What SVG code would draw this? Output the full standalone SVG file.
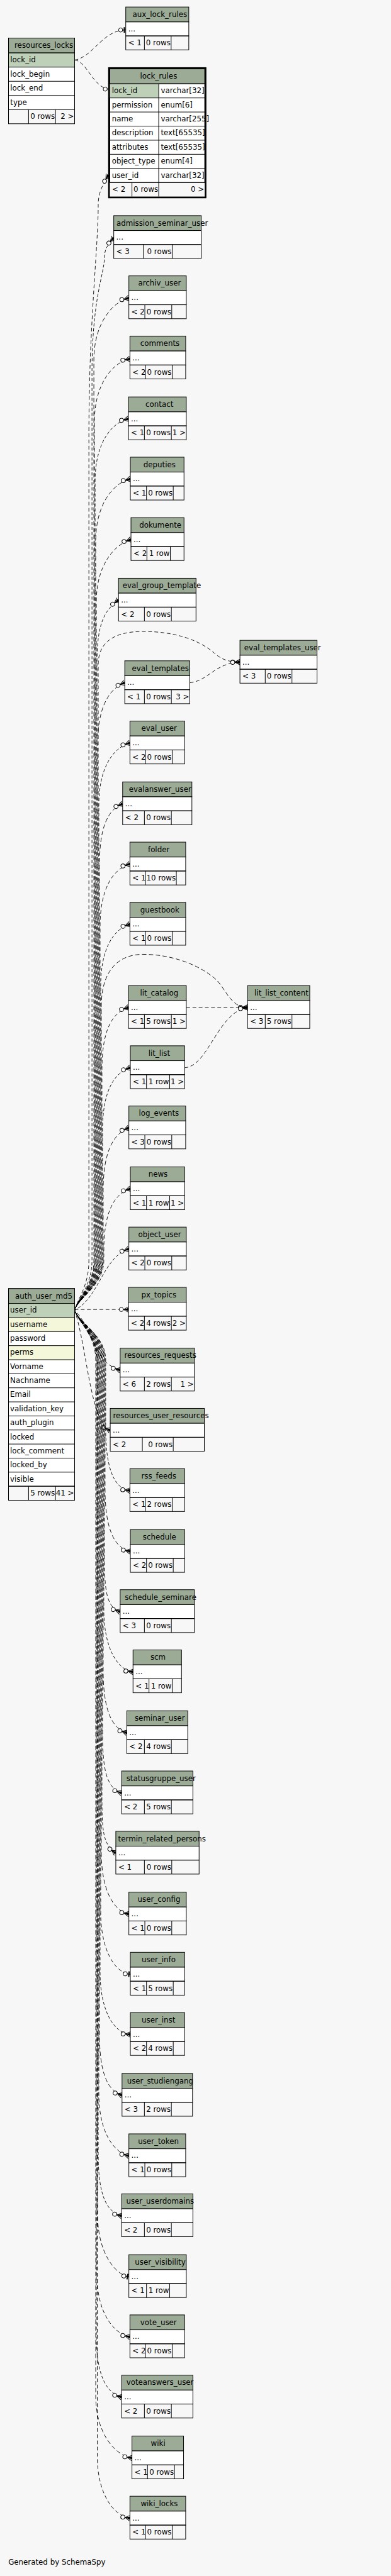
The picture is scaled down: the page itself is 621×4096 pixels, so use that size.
<svg xmlns="http://www.w3.org/2000/svg" width="621" height="4096" viewBox="0 0 621 4096">
<style>
.h{fill:#9bab96;stroke:#000;stroke-width:1}
.r{fill:#fff;stroke:#000;stroke-width:1}
.f{fill:none;stroke:#000;stroke-width:1}
.k{fill:#bed1b8}
.x{fill:#f4f7da}
.t{font-family:"DejaVu Sans","Liberation Sans",sans-serif;font-size:12px;fill:#000}
.e{text-anchor:end}
.c{fill:none;stroke:#000;stroke-width:0.9;stroke-dasharray:6,4}
.d{stroke-dasharray:5,3;stroke-dashoffset:2}
.g{stroke-dasharray:7,4;stroke-dashoffset:5}
.m{marker-end:url(#crow)}
.n{marker-end:url(#tee)}
</style>
<defs>
<marker id="crow" viewBox="-16 -6 17 12" refX="0" refY="0" markerWidth="17" markerHeight="12" markerUnits="userSpaceOnUse" orient="auto">
<path d="M0,-4.5L-8,0L0,4.5M-8.3,0H0" fill="none" stroke="#000" stroke-width="1"/>
<path d="M0,-2.6L-7,0L0,2.6Z" fill="#000"/>
<circle cx="-11.6" cy="0" r="3.3" fill="#fff" stroke="#000" stroke-width="1"/>
</marker>
<marker id="tee" viewBox="-13 -6 14 12" refX="0" refY="0" markerWidth="14" markerHeight="12" markerUnits="userSpaceOnUse" orient="auto">
<path d="M-2.3,-4.5V4.5" stroke="#000" stroke-width="2"/>
<path d="M-4.9,0H0" stroke="#000" stroke-width="1"/>
<circle cx="-8.2" cy="0" r="3.3" fill="#fff" stroke="#000" stroke-width="1"/>
</marker>
</defs>
<rect x="0" y="0" width="621" height="4096" fill="#f7f7f7"/>
<g transform="scale(0.98728)">
<g id="connectors">
<path class="c n" d="M120,96.7 C150,92 165,48.3 202.3,48.3"/>
<path class="c n" d="M120,96.7 C140,98 150,143.5 177.5,143.5"/>
<path class="c m" d="M120,2110 C126,2090 143,2070 143,2030 L143,700 C143,520 158,400 158,330 C158,318 160,305 174.5,282"/>
<path class="c d m" d="M120,2110 C126,2090 148,2070 148,2030 L148,600 C148,480 168,440 168,415 C168,403 172,395 183,383"/>
<path class="c g m" d="M120,2110 C126,2090 151,2070 151,2030 L151,580 C151,520 181.8,485.9 207.3,480"/>
<path class="c m" d="M120,2110 C126,2090 152,2070 152,2030 L152,678 C152,618 181.9,583.1 209,578"/>
<path class="c d m" d="M120,2110 C126,2090 153,2070 153,2030 L153,774.5 C153,714.5 178.8,680.7 206.7,674.5"/>
<path class="c g m" d="M120,2110 C126,2090 154,2070 154,2030 L154,871.5 C154,811.5 182.4,777.7 209.7,771.5"/>
<path class="c m" d="M120,2110 C126,2090 155,2070 155,2030 L155,969 C155,909 185,876.3 210.7,869"/>
<path class="c d m" d="M120,2110 C126,2090 156,2070 156,2030 L156,1066.5 C156,1006.5 167.2,983 190.7,966.5"/>
<path class="c g m" d="M120,2110 C126,2090 157,2070 157,2030 L157,1199.6 C157,1139.6 175,1109.3 200.7,1099.6"/>
<path class="c m" d="M120,2110 C126,2090 158,2070 158,2030 L158,1070 C158,1030 190,1017 230,1017 C280,1017 320,1030 345,1052 C355,1061 365,1066 386,1066.3"/>
<path class="c m" d="M305.3,1099.5 C335,1097 345,1068 386,1066.3"/>
<path class="c d m" d="M120,2110 C126,2090 159,2070 159,2030 L159,1296.6 C159,1236.6 181.9,1204.1 209,1196.6"/>
<path class="c g m" d="M120,2110 C126,2090 160,2070 160,2030 L160,1394.6 C160,1334.6 171.8,1304.9 197.3,1294.6"/>
<path class="c m" d="M120,2110 C126,2090 161,2070 161,2030 L161,1491.6 C161,1431.6 181.9,1399.1 209,1391.6"/>
<path class="c d m" d="M120,2110 C126,2090 162,2070 162,2030 L162,1588.6 C162,1528.6 181.9,1496.7 209,1488.6"/>
<path class="c g m" d="M120,2110 C126,2090 163,2070 163,2030 L163,1620 C163,1570 185,1537 230,1537 C285,1537 330,1560 350,1580 C365,1597 372,1622 398.3,1622.6"/>
<path class="c m" d="M299.7,1622.6 H398.3"/>
<path class="c m" d="M297,1719.6 C335,1718 350,1630 398.3,1622.6"/>
<path class="c m" d="M120,2110 C126,2090 164,2070 164,2030 L164,1722.6 C164,1662.6 178.8,1630.7 206.7,1622.6"/>
<path class="c d m" d="M120,2110 C126,2090 165,2070 165,2030 L165,1819.6 C165,1759.6 182.4,1727.7 209.7,1719.6"/>
<path class="c g m" d="M120,2110 C126,2090 166,2070 166,2030 L166,1916.6 C166,1856.6 181.8,1825.6 207.3,1816.6"/>
<path class="c m" d="M120,2110 C126,2090 167,2070 167,2030 L167,2014.6 C167,1954.6 182.4,1922.7 209.7,1914.6"/>
<path class="c d m" d="M120,2110 C160,2090 165,2025 207.3,2011.6"/>
<path class="c m" d="M120,2109 H206.7"/>
<path class="c g m" d="M120,2110 C150,2140 150,2195 193.3,2206.6"/>
<path class="c m" d="M120,2110 C140,2170 145,2290 177.3,2303.6"/>
<path class="c d m" d="M120,2110 C126,2130 170,2150 170,2190 L170,2300.6 C170,2360.6 181.9,2397.7 209,2400.6"/>
<path class="c g m" d="M120,2110 C126,2130 169,2150 169,2190 L169,2398.6 C169,2458.6 182.4,2493.5 209.7,2498.6"/>
<path class="c m" d="M120,2110 C126,2130 168,2150 168,2190 L168,2495.6 C168,2555.6 169,2588.3 193.3,2595.6"/>
<path class="c d m" d="M120,2110 C126,2130 167,2150 167,2190 L167,2592.6 C167,2652.6 188.3,2689.7 214,2692.6"/>
<path class="c g m" d="M120,2110 C126,2130 166,2150 166,2190 L166,2690.6 C166,2750.6 178.3,2783.3 204,2790.6"/>
<path class="c m" d="M120,2110 C126,2130 165,2150 165,2190 L165,2787.6 C165,2847.6 170,2879 195.7,2887.6"/>
<path class="c d m" d="M120,2110 C126,2130 164,2150 164,2190 L164,2884.6 C164,2944.6 164,2969.4 186.3,2984.6"/>
<path class="c g m" d="M120,2110 C126,2130 163,2150 163,2190 L163,2982.6 C163,3042.6 181.8,3077.5 207.3,3082.6"/>
<path class="c n" d="M120,2110 C126,2130 162,2150 162,2190 L162,3079.6 C162,3139.6 184.5,3177.8 209.7,3179.6"/>
<path class="c d m" d="M120,2110 C126,2130 161,2150 161,2190 L161,3176.6 C161,3236.6 182.4,3274.6 209.7,3276.6"/>
<path class="c g m" d="M120,2110 C126,2130 160,2150 160,2190 L160,3274.6 C160,3334.6 170.8,3366 196.3,3374.6"/>
<path class="c m" d="M120,2110 C126,2130 159,2150 159,2190 L159,3372 C159,3432 181.8,3466.1 207.3,3472"/>
<path class="c d m" d="M120,2110 C126,2130 158,2150 158,2190 L158,3468.6 C158,3528.6 168.4,3562.2 195.7,3568.6"/>
<path class="c g n" d="M120,2110 C126,2130 157,2150 157,2190 L157,3567 C157,3627 184.5,3663.1 207.3,3667"/>
<path class="c m" d="M120,2110 C126,2130 156,2150 156,2190 L156,3663.6 C156,3723.6 181.9,3758.5 209,3763.6"/>
<path class="c d m" d="M120,2110 C126,2130 155,2150 155,2190 L155,3760.6 C155,3820.6 168.4,3853.3 195.7,3860.6"/>
<path class="c g m" d="M120,2110 C126,2130 154,2150 154,2190 L154,3858.6 C154,3918.6 184.6,3954.4 212.3,3958.6"/>
<path class="c m" d="M120,2110 C126,2130 156.5,2150 156.5,2190 L156.5,3955.6 C156.5,4015.6 181.9,4051.4 209,4055.6"/>
</g>

<g id="resources_locks">
<rect class="h" x="13.7" y="61.3" width="106.3" height="24"/>
<rect class="r" x="13.7" y="85.3" width="106.3" height="91.2"/>
<rect class="k" x="13.7" y="85.3" width="106.3" height="22.8"/>
<path class="f" d="M13.7,85.3H120M13.7,108.1H120M13.7,130.9H120M13.7,153.7H120M46,176.5V199.3M89.3,176.5V199.3"/>
<rect class="f" x="13.7" y="61.3" width="106.3" height="138"/>
<text class="t" x="23.3" y="77.3">resources_locks</text>
<text class="t" x="16.5" y="100.3">lock_id</text>
<text class="t" x="16.5" y="123.1">lock_begin</text>
<text class="t" x="16.5" y="145.9">lock_end</text>
<text class="t" x="16.5" y="168.7">type</text>
<text class="t e" x="88.3" y="191.5">0 rows</text>
<text class="t e" x="119" y="191.5">2 &gt;</text>
</g>

<g id="aux_lock_rules"><rect class="h" x="202.3" y="11.3" width="101.4" height="24"/><rect class="r" x="202.3" y="35.3" width="101.4" height="22.5"/><rect class="f" x="202.3" y="57.8" width="101.4" height="22.5"/><path class="f" d="M232.3,57.8V80.3M275.3,57.8V80.3"/><text class="t" x="213.3" y="27.3">aux_lock_rules</text><text class="t" x="206.3" y="50.3">...</text><text class="t" x="206.3" y="73.3">&lt; 1</text><text class="t e" x="274.3" y="73.3">0 rows</text></g>

<g id="lock_rules">
<rect class="h" x="176.7" y="111" width="152.6" height="24"/>
<rect class="r" x="176.7" y="135" width="152.6" height="158.9"/>
<rect class="k" x="176.7" y="135" width="78.6" height="22.7"/>
<path class="f" d="M176.7,135H329.3M176.7,157.7H329.3M176.7,180.4H329.3M176.7,203.1H329.3M176.7,225.8H329.3M176.7,248.5H329.3M176.7,271.2H329.3M176.7,293.9H329.3M255.3,135V316.6M212.3,293.9V316.6"/>
<text class="t" x="225.3" y="127">lock_rules</text>
<text class="t" x="180" y="150">lock_id</text><text class="t" x="258.7" y="150">varchar[32]</text>
<text class="t" x="180" y="172.7">permission</text><text class="t" x="258.7" y="172.7">enum[6]</text>
<text class="t" x="180" y="195.4">name</text><text class="t" x="258.7" y="195.4">varchar[255]</text>
<text class="t" x="180" y="218.1">description</text><text class="t" x="258.7" y="218.1">text[65535]</text>
<text class="t" x="180" y="240.8">attributes</text><text class="t" x="258.7" y="240.8">text[65535]</text>
<text class="t" x="180" y="263.5">object_type</text><text class="t" x="258.7" y="263.5">enum[4]</text>
<text class="t" x="180" y="286.2">user_id</text><text class="t" x="258.7" y="286.2">varchar[32]</text>
<text class="t" x="180.3" y="308.9">&lt; 2</text><text class="t e" x="254.3" y="308.9">0 rows</text><text class="t e" x="328.3" y="308.9">0 &gt;</text>
<rect x="175.35" y="109.65" width="155.3" height="208.3" fill="none" stroke="#000" stroke-width="2.7"/>
</g>

<g id="admission_seminar_user"><rect class="h" x="183" y="347.3" width="140.7" height="24"/><rect class="r" x="183" y="371.3" width="140.7" height="22.5"/><rect class="f" x="183" y="393.8" width="140.7" height="22.5"/><path class="f" d="M230.7,393.8V416.3M277,393.8V416.3"/><text class="t" x="187.3" y="363.3">admission_seminar_user</text><text class="t" x="187" y="386.3">...</text><text class="t" x="187" y="409.3">&lt; 3</text><text class="t e" x="276" y="409.3">0 rows</text></g>

<g id="archiv_user"><rect class="h" x="207.3" y="444.3" width="92.4" height="24"/><rect class="r" x="207.3" y="468.3" width="92.4" height="22.5"/><rect class="f" x="207.3" y="490.8" width="92.4" height="22.5"/><path class="f" d="M233,490.8V513.3M276.3,490.8V513.3"/><text class="t" x="222.3" y="460.3">archiv_user</text><text class="t" x="211.3" y="483.3">...</text><text class="t" x="211.3" y="506.3">&lt; 2</text><text class="t e" x="275.3" y="506.3">0 rows</text></g>

<g id="comments"><rect class="h" x="209" y="541.3" width="89.7" height="24"/><rect class="r" x="209" y="565.3" width="89.7" height="22.5"/><rect class="f" x="209" y="587.8" width="89.7" height="22.5"/><path class="f" d="M234,587.8V610.3M277,587.8V610.3"/><text class="t" x="225.7" y="557.3">comments</text><text class="t" x="213" y="580.3">...</text><text class="t" x="213" y="603.3">&lt; 2</text><text class="t e" x="276" y="603.3">0 rows</text></g>

<g id="contact"><rect class="h" x="206.7" y="639.3" width="93" height="24"/><rect class="r" x="206.7" y="663.3" width="93" height="22.5"/><rect class="f" x="206.7" y="685.8" width="93" height="22.5"/><path class="f" d="M232.3,685.8V708.3M275.7,685.8V708.3"/><text class="t" x="234" y="655.3">contact</text><text class="t" x="210.7" y="678.3">...</text><text class="t" x="210.7" y="701.3">&lt; 1</text><text class="t e" x="274.7" y="701.3">0 rows</text><text class="t e" x="298.7" y="701.3">1 &gt;</text></g>

<g id="deputies"><rect class="h" x="209.7" y="736.3" width="86.3" height="24"/><rect class="r" x="209.7" y="760.3" width="86.3" height="22.5"/><rect class="f" x="209.7" y="782.8" width="86.3" height="22.5"/><path class="f" d="M235.7,782.8V805.3M278.7,782.8V805.3"/><text class="t" x="230.7" y="752.3">deputies</text><text class="t" x="213.7" y="775.3">...</text><text class="t" x="213.7" y="798.3">&lt; 1</text><text class="t e" x="277.7" y="798.3">0 rows</text></g>

<g id="dokumente"><rect class="h" x="210.7" y="833.7" width="85.3" height="24"/><rect class="r" x="210.7" y="857.7" width="85.3" height="22.5"/><rect class="f" x="210.7" y="880.2" width="85.3" height="22.5"/><path class="f" d="M236.3,880.2V902.7M274,880.2V902.7"/><text class="t" x="224" y="849.7">dokumente</text><text class="t" x="214.7" y="872.7">...</text><text class="t" x="214.7" y="895.7">&lt; 2</text><text class="t e" x="273" y="895.7">1 row</text></g>

<g id="eval_group_template"><rect class="h" x="190.7" y="931.3" width="124.6" height="24"/><rect class="r" x="190.7" y="955.3" width="124.6" height="22.5"/><rect class="f" x="190.7" y="977.8" width="124.6" height="22.5"/><path class="f" d="M232.3,977.8V1000.3M275.7,977.8V1000.3"/><text class="t" x="197.3" y="947.3">eval_group_template</text><text class="t" x="194.7" y="970.3">...</text><text class="t" x="194.7" y="993.3">&lt; 2</text><text class="t e" x="274.7" y="993.3">0 rows</text></g>

<g id="eval_templates_user"><rect class="h" x="386" y="1031.3" width="124" height="24"/><rect class="r" x="386" y="1055.3" width="124" height="22.5"/><rect class="f" x="386" y="1077.8" width="124" height="22.5"/><path class="f" d="M426.7,1077.8V1100.3M469.7,1077.8V1100.3"/><text class="t" x="392.7" y="1047.3">eval_templates_user</text><text class="t" x="390" y="1070.3">...</text><text class="t" x="390" y="1093.3">&lt; 3</text><text class="t e" x="468.7" y="1093.3">0 rows</text></g>

<g id="eval_templates"><rect class="h" x="200.7" y="1064.3" width="104.6" height="24"/><rect class="r" x="200.7" y="1088.3" width="104.6" height="22.5"/><rect class="f" x="200.7" y="1110.8" width="104.6" height="22.5"/><path class="f" d="M232.3,1110.8V1133.3M275.7,1110.8V1133.3"/><text class="t" x="212.3" y="1080.3">eval_templates</text><text class="t" x="204.7" y="1103.3">...</text><text class="t" x="204.7" y="1126.3">&lt; 1</text><text class="t e" x="274.7" y="1126.3">0 rows</text><text class="t e" x="304.3" y="1126.3">3 &gt;</text></g>

<g id="eval_user"><rect class="h" x="209" y="1161.3" width="88" height="24"/><rect class="r" x="209" y="1185.3" width="88" height="22.5"/><rect class="f" x="209" y="1207.8" width="88" height="22.5"/><path class="f" d="M234,1207.8V1230.3M277,1207.8V1230.3"/><text class="t" x="227.3" y="1177.3">eval_user</text><text class="t" x="213" y="1200.3">...</text><text class="t" x="213" y="1223.3">&lt; 2</text><text class="t e" x="276" y="1223.3">0 rows</text></g>

<g id="evalanswer_user"><rect class="h" x="197.3" y="1259.3" width="111.4" height="24"/><rect class="r" x="197.3" y="1283.3" width="111.4" height="22.5"/><rect class="f" x="197.3" y="1305.8" width="111.4" height="22.5"/><path class="f" d="M232.3,1305.8V1328.3M275.7,1305.8V1328.3"/><text class="t" x="207.3" y="1275.3">evalanswer_user</text><text class="t" x="201.3" y="1298.3">...</text><text class="t" x="201.3" y="1321.3">&lt; 2</text><text class="t e" x="274.7" y="1321.3">0 rows</text></g>

<g id="folder"><rect class="h" x="209" y="1356.3" width="89.7" height="24"/><rect class="r" x="209" y="1380.3" width="89.7" height="22.5"/><rect class="f" x="209" y="1402.8" width="89.7" height="22.5"/><path class="f" d="M234,1402.8V1425.3M283.7,1402.8V1425.3"/><text class="t" x="238" y="1372.3">folder</text><text class="t" x="213" y="1395.3">...</text><text class="t" x="213" y="1418.3">&lt; 1</text><text class="t e" x="282.7" y="1418.3">10 rows</text></g>

<g id="guestbook"><rect class="h" x="209" y="1453.3" width="89.7" height="24"/><rect class="r" x="209" y="1477.3" width="89.7" height="22.5"/><rect class="f" x="209" y="1499.8" width="89.7" height="22.5"/><path class="f" d="M234,1499.8V1522.3M277,1499.8V1522.3"/><text class="t" x="225.7" y="1469.3">guestbook</text><text class="t" x="213" y="1492.3">...</text><text class="t" x="213" y="1515.3">&lt; 1</text><text class="t e" x="276" y="1515.3">0 rows</text></g>

<g id="lit_catalog"><rect class="h" x="206.7" y="1587.3" width="93" height="24"/><rect class="r" x="206.7" y="1611.3" width="93" height="22.5"/><rect class="f" x="206.7" y="1633.8" width="93" height="22.5"/><path class="f" d="M232.3,1633.8V1656.3M275.7,1633.8V1656.3"/><text class="t" x="225.3" y="1603.3">lit_catalog</text><text class="t" x="210.7" y="1626.3">...</text><text class="t" x="210.7" y="1649.3">&lt; 1</text><text class="t e" x="274.7" y="1649.3">5 rows</text><text class="t e" x="298.7" y="1649.3">1 &gt;</text></g>

<g id="lit_list_content"><rect class="h" x="398.3" y="1587.3" width="100" height="24"/><rect class="r" x="398.3" y="1611.3" width="100" height="22.5"/><rect class="f" x="398.3" y="1633.8" width="100" height="22.5"/><path class="f" d="M426.7,1633.8V1656.3M469.7,1633.8V1656.3"/><text class="t" x="409.3" y="1603.3">lit_list_content</text><text class="t" x="402.3" y="1626.3">...</text><text class="t" x="402.3" y="1649.3">&lt; 3</text><text class="t e" x="468.7" y="1649.3">5 rows</text></g>

<g id="lit_list"><rect class="h" x="209.7" y="1684.3" width="87.3" height="24"/><rect class="r" x="209.7" y="1708.3" width="87.3" height="22.5"/><rect class="f" x="209.7" y="1730.8" width="87.3" height="22.5"/><path class="f" d="M235.7,1730.8V1753.3M273,1730.8V1753.3"/><text class="t" x="238.7" y="1700.3">lit_list</text><text class="t" x="213.7" y="1723.3">...</text><text class="t" x="213.7" y="1746.3">&lt; 1</text><text class="t e" x="272" y="1746.3">1 row</text><text class="t e" x="296" y="1746.3">1 &gt;</text></g>

<g id="log_events"><rect class="h" x="207.3" y="1781.3" width="91.4" height="24"/><rect class="r" x="207.3" y="1805.3" width="91.4" height="22.5"/><rect class="f" x="207.3" y="1827.8" width="91.4" height="22.5"/><path class="f" d="M233,1827.8V1850.3M276.3,1827.8V1850.3"/><text class="t" x="223.3" y="1797.3">log_events</text><text class="t" x="211.3" y="1820.3">...</text><text class="t" x="211.3" y="1843.3">&lt; 3</text><text class="t e" x="275.3" y="1843.3">0 rows</text></g>

<g id="news"><rect class="h" x="209.7" y="1879.3" width="87.3" height="24"/><rect class="r" x="209.7" y="1903.3" width="87.3" height="22.5"/><rect class="f" x="209.7" y="1925.8" width="87.3" height="22.5"/><path class="f" d="M235.7,1925.8V1948.3M273,1925.8V1948.3"/><text class="t" x="238.7" y="1895.3">news</text><text class="t" x="213.7" y="1918.3">...</text><text class="t" x="213.7" y="1941.3">&lt; 1</text><text class="t e" x="272" y="1941.3">1 row</text><text class="t e" x="296" y="1941.3">1 &gt;</text></g>

<g id="object_user"><rect class="h" x="207.3" y="1976.3" width="92.4" height="24"/><rect class="r" x="207.3" y="2000.3" width="92.4" height="22.5"/><rect class="f" x="207.3" y="2022.8" width="92.4" height="22.5"/><path class="f" d="M233,2022.8V2045.3M276.3,2022.8V2045.3"/><text class="t" x="222.3" y="1992.3">object_user</text><text class="t" x="211.3" y="2015.3">...</text><text class="t" x="211.3" y="2038.3">&lt; 2</text><text class="t e" x="275.3" y="2038.3">0 rows</text></g>

<g id="auth_user_md5">
<rect class="h" x="13.7" y="2075.3" width="106.3" height="24"/>
<rect class="r" x="13.7" y="2099.3" width="106.3" height="294.32"/>
<rect class="k" x="13.7" y="2099.3" width="106.3" height="22.64"/>
<rect class="x" x="13.7" y="2121.94" width="106.3" height="22.64"/>
<rect class="x" x="13.7" y="2167.22" width="106.3" height="22.64"/>
<path class="f" d="M13.7,2099.3H120M13.7,2121.94H120M13.7,2144.58H120M13.7,2167.22H120M13.7,2189.86H120M13.7,2212.5H120M13.7,2235.14H120M13.7,2257.78H120M13.7,2280.42H120M13.7,2303.06H120M13.7,2325.7H120M13.7,2348.34H120M13.7,2370.98H120M13.7,2393.62H120M46,2393.62V2416.26M89.3,2393.62V2416.26"/>
<rect class="f" x="13.7" y="2075.3" width="106.3" height="340.96"/>
<text class="t" x="24.3" y="2091.3">auth_user_md5</text>
<text class="t" x="16.3" y="2114.3">user_id</text>
<text class="t" x="16.3" y="2136.9">username</text>
<text class="t" x="16.3" y="2159.6">password</text>
<text class="t" x="16.3" y="2182.2">perms</text>
<text class="t" x="16.3" y="2204.9">Vorname</text>
<text class="t" x="16.3" y="2227.5">Nachname</text>
<text class="t" x="16.3" y="2250.1">Email</text>
<text class="t" x="16.3" y="2272.8">validation_key</text>
<text class="t" x="16.3" y="2295.4">auth_plugin</text>
<text class="t" x="16.3" y="2318.1">locked</text>
<text class="t" x="16.3" y="2340.7">lock_comment</text>
<text class="t" x="16.3" y="2363.3">locked_by</text>
<text class="t" x="16.3" y="2386">visible</text>
<text class="t e" x="88.3" y="2408.6">5 rows</text>
<text class="t e" x="119" y="2408.6">41 &gt;</text>
</g>

<g id="px_topics"><rect class="h" x="206.7" y="2073.3" width="93" height="24"/><rect class="r" x="206.7" y="2097.3" width="93" height="22.5"/><rect class="f" x="206.7" y="2119.8" width="93" height="22.5"/><path class="f" d="M232.3,2119.8V2142.3M275.7,2119.8V2142.3"/><text class="t" x="227.3" y="2089.3">px_topics</text><text class="t" x="210.7" y="2112.3">...</text><text class="t" x="210.7" y="2135.3">&lt; 2</text><text class="t e" x="274.7" y="2135.3">4 rows</text><text class="t e" x="298.7" y="2135.3">2 &gt;</text></g>

<g id="resources_requests"><rect class="h" x="193.3" y="2171.3" width="119.4" height="24"/><rect class="r" x="193.3" y="2195.3" width="119.4" height="22.5"/><rect class="f" x="193.3" y="2217.8" width="119.4" height="22.5"/><path class="f" d="M232.3,2217.8V2240.3M275.7,2217.8V2240.3"/><text class="t" x="200" y="2187.3">resources_requests</text><text class="t" x="197.3" y="2210.3">...</text><text class="t" x="197.3" y="2233.3">&lt; 6</text><text class="t e" x="274.7" y="2233.3">2 rows</text><text class="t e" x="311.7" y="2233.3">1 &gt;</text></g>

<g id="resources_user_resources"><rect class="h" x="177.3" y="2268.3" width="151.4" height="24"/><rect class="r" x="177.3" y="2292.3" width="151.4" height="22.5"/><rect class="f" x="177.3" y="2314.8" width="151.4" height="22.5"/><path class="f" d="M229,2314.8V2337.3M278.7,2314.8V2337.3"/><text class="t" x="181.7" y="2284.3">resources_user_resources</text><text class="t" x="181.3" y="2307.3">...</text><text class="t" x="181.3" y="2330.3">&lt; 2</text><text class="t e" x="277.7" y="2330.3">0 rows</text></g>

<g id="rss_feeds"><rect class="h" x="209" y="2365.3" width="88" height="24"/><rect class="r" x="209" y="2389.3" width="88" height="22.5"/><rect class="f" x="209" y="2411.8" width="88" height="22.5"/><path class="f" d="M234,2411.8V2434.3M277,2411.8V2434.3"/><text class="t" x="227.3" y="2381.3">rss_feeds</text><text class="t" x="213" y="2404.3">...</text><text class="t" x="213" y="2427.3">&lt; 1</text><text class="t e" x="276" y="2427.3">2 rows</text></g>

<g id="schedule"><rect class="h" x="209.7" y="2463.3" width="87.3" height="24"/><rect class="r" x="209.7" y="2487.3" width="87.3" height="22.5"/><rect class="f" x="209.7" y="2509.8" width="87.3" height="22.5"/><path class="f" d="M235.7,2509.8V2532.3M278.7,2509.8V2532.3"/><text class="t" x="229.7" y="2479.3">schedule</text><text class="t" x="213.7" y="2502.3">...</text><text class="t" x="213.7" y="2525.3">&lt; 2</text><text class="t e" x="277.7" y="2525.3">0 rows</text></g>

<g id="schedule_seminare"><rect class="h" x="193.3" y="2560.3" width="119.4" height="24"/><rect class="r" x="193.3" y="2584.3" width="119.4" height="22.5"/><rect class="f" x="193.3" y="2606.8" width="119.4" height="22.5"/><path class="f" d="M232.3,2606.8V2629.3M275.7,2606.8V2629.3"/><text class="t" x="200.7" y="2576.3">schedule_seminare</text><text class="t" x="197.3" y="2599.3">...</text><text class="t" x="197.3" y="2622.3">&lt; 3</text><text class="t e" x="274.7" y="2622.3">0 rows</text></g>

<g id="scm"><rect class="h" x="214" y="2657.3" width="78" height="24"/><rect class="r" x="214" y="2681.3" width="78" height="22.5"/><rect class="f" x="214" y="2703.8" width="78" height="22.5"/><path class="f" d="M239.7,2703.8V2726.3M277,2703.8V2726.3"/><text class="t" x="242" y="2673.3">scm</text><text class="t" x="218" y="2696.3">...</text><text class="t" x="218" y="2719.3">&lt; 1</text><text class="t e" x="276" y="2719.3">1 row</text></g>

<g id="seminar_user"><rect class="h" x="204" y="2755.3" width="98" height="24"/><rect class="r" x="204" y="2779.3" width="98" height="22.5"/><rect class="f" x="204" y="2801.8" width="98" height="22.5"/><path class="f" d="M232.3,2801.8V2824.3M275.7,2801.8V2824.3"/><text class="t" x="216.7" y="2771.3">seminar_user</text><text class="t" x="208" y="2794.3">...</text><text class="t" x="208" y="2817.3">&lt; 2</text><text class="t e" x="274.7" y="2817.3">4 rows</text></g>

<g id="statusgruppe_user"><rect class="h" x="195.7" y="2852.3" width="114.6" height="24"/><rect class="r" x="195.7" y="2876.3" width="114.6" height="22.5"/><rect class="f" x="195.7" y="2898.8" width="114.6" height="22.5"/><path class="f" d="M232.3,2898.8V2921.3M275.7,2898.8V2921.3"/><text class="t" x="203.3" y="2868.3">statusgruppe_user</text><text class="t" x="199.7" y="2891.3">...</text><text class="t" x="199.7" y="2914.3">&lt; 2</text><text class="t e" x="274.7" y="2914.3">5 rows</text></g>

<g id="termin_related_persons"><rect class="h" x="186.3" y="2949.3" width="134" height="24"/><rect class="r" x="186.3" y="2973.3" width="134" height="22.5"/><rect class="f" x="186.3" y="2995.8" width="134" height="22.5"/><path class="f" d="M232.3,2995.8V3018.3M276.3,2995.8V3018.3"/><text class="t" x="190" y="2965.3">termin_related_persons</text><text class="t" x="190.3" y="2988.3">...</text><text class="t" x="190.3" y="3011.3">&lt; 1</text><text class="t e" x="275.3" y="3011.3">0 rows</text></g>

<g id="user_config"><rect class="h" x="207.3" y="3047.3" width="92.4" height="24"/><rect class="r" x="207.3" y="3071.3" width="92.4" height="22.5"/><rect class="f" x="207.3" y="3093.8" width="92.4" height="22.5"/><path class="f" d="M233,3093.8V3116.3M276.3,3093.8V3116.3"/><text class="t" x="221.3" y="3063.3">user_config</text><text class="t" x="211.3" y="3086.3">...</text><text class="t" x="211.3" y="3109.3">&lt; 1</text><text class="t e" x="275.3" y="3109.3">0 rows</text></g>

<g id="user_info"><rect class="h" x="209.7" y="3144.3" width="87.3" height="24"/><rect class="r" x="209.7" y="3168.3" width="87.3" height="22.5"/><rect class="f" x="209.7" y="3190.8" width="87.3" height="22.5"/><path class="f" d="M235.7,3190.8V3213.3M278.7,3190.8V3213.3"/><text class="t" x="228" y="3160.3">user_info</text><text class="t" x="213.7" y="3183.3">...</text><text class="t" x="213.7" y="3206.3">&lt; 1</text><text class="t e" x="277.7" y="3206.3">5 rows</text></g>

<g id="user_inst"><rect class="h" x="209.7" y="3241.3" width="87.3" height="24"/><rect class="r" x="209.7" y="3265.3" width="87.3" height="22.5"/><rect class="f" x="209.7" y="3287.8" width="87.3" height="22.5"/><path class="f" d="M235.7,3287.8V3310.3M278.7,3287.8V3310.3"/><text class="t" x="228" y="3257.3">user_inst</text><text class="t" x="213.7" y="3280.3">...</text><text class="t" x="213.7" y="3303.3">&lt; 2</text><text class="t e" x="277.7" y="3303.3">4 rows</text></g>

<g id="user_studiengang"><rect class="h" x="196.3" y="3339.3" width="113.4" height="24"/><rect class="r" x="196.3" y="3363.3" width="113.4" height="22.5"/><rect class="f" x="196.3" y="3385.8" width="113.4" height="22.5"/><path class="f" d="M232.3,3385.8V3408.3M275.7,3385.8V3408.3"/><text class="t" x="204.3" y="3355.3">user_studiengang</text><text class="t" x="200.3" y="3378.3">...</text><text class="t" x="200.3" y="3401.3">&lt; 3</text><text class="t e" x="274.7" y="3401.3">2 rows</text></g>

<g id="user_token"><rect class="h" x="207.3" y="3436.7" width="91.4" height="24"/><rect class="r" x="207.3" y="3460.7" width="91.4" height="22.5"/><rect class="f" x="207.3" y="3483.2" width="91.4" height="22.5"/><path class="f" d="M233,3483.2V3505.7M276.3,3483.2V3505.7"/><text class="t" x="222" y="3452.7">user_token</text><text class="t" x="211.3" y="3475.7">...</text><text class="t" x="211.3" y="3498.7">&lt; 1</text><text class="t e" x="275.3" y="3498.7">0 rows</text></g>

<g id="user_userdomains"><rect class="h" x="195.7" y="3533.3" width="114.6" height="24"/><rect class="r" x="195.7" y="3557.3" width="114.6" height="22.5"/><rect class="f" x="195.7" y="3579.8" width="114.6" height="22.5"/><path class="f" d="M232.3,3579.8V3602.3M275.7,3579.8V3602.3"/><text class="t" x="203" y="3549.3">user_userdomains</text><text class="t" x="199.7" y="3572.3">...</text><text class="t" x="199.7" y="3595.3">&lt; 2</text><text class="t e" x="274.7" y="3595.3">0 rows</text></g>

<g id="user_visibility"><rect class="h" x="207.3" y="3631.3" width="92.4" height="24"/><rect class="r" x="207.3" y="3655.3" width="92.4" height="22.5"/><rect class="f" x="207.3" y="3677.8" width="92.4" height="22.5"/><path class="f" d="M235.7,3677.8V3700.3M273,3677.8V3700.3"/><text class="t" x="217" y="3647.3">user_visibility</text><text class="t" x="211.3" y="3670.3">...</text><text class="t" x="211.3" y="3693.3">&lt; 1</text><text class="t e" x="272" y="3693.3">1 row</text></g>

<g id="vote_user"><rect class="h" x="209" y="3728.3" width="88" height="24"/><rect class="r" x="209" y="3752.3" width="88" height="22.5"/><rect class="f" x="209" y="3774.8" width="88" height="22.5"/><path class="f" d="M234,3774.8V3797.3M277,3774.8V3797.3"/><text class="t" x="225.7" y="3744.3">vote_user</text><text class="t" x="213" y="3767.3">...</text><text class="t" x="213" y="3790.3">&lt; 2</text><text class="t e" x="276" y="3790.3">0 rows</text></g>

<g id="voteanswers_user"><rect class="h" x="195.7" y="3825.3" width="114.6" height="24"/><rect class="r" x="195.7" y="3849.3" width="114.6" height="22.5"/><rect class="f" x="195.7" y="3871.8" width="114.6" height="22.5"/><path class="f" d="M232.3,3871.8V3894.3M275.7,3871.8V3894.3"/><text class="t" x="203.3" y="3841.3">voteanswers_user</text><text class="t" x="199.7" y="3864.3">...</text><text class="t" x="199.7" y="3887.3">&lt; 2</text><text class="t e" x="274.7" y="3887.3">0 rows</text></g>

<g id="wiki"><rect class="h" x="212.3" y="3923.3" width="83" height="24"/><rect class="r" x="212.3" y="3947.3" width="83" height="22.5"/><rect class="f" x="212.3" y="3969.8" width="83" height="22.5"/><path class="f" d="M237.3,3969.8V3992.3M280.7,3969.8V3992.3"/><text class="t" x="242.7" y="3939.3">wiki</text><text class="t" x="216.3" y="3962.3">...</text><text class="t" x="216.3" y="3985.3">&lt; 1</text><text class="t e" x="279.7" y="3985.3">0 rows</text></g>

<g id="wiki_locks"><rect class="h" x="209" y="4020.3" width="89.7" height="24"/><rect class="r" x="209" y="4044.3" width="89.7" height="22.5"/><rect class="f" x="209" y="4066.8" width="89.7" height="22.5"/><path class="f" d="M234,4066.8V4089.3M277,4066.8V4089.3"/><text class="t" x="226.3" y="4036.3">wiki_locks</text><text class="t" x="213" y="4059.3">...</text><text class="t" x="213" y="4082.3">&lt; 1</text><text class="t e" x="276" y="4082.3">0 rows</text></g>

<text class="t" x="13.3" y="4131">Generated by SchemaSpy</text>
</g>
</svg>
